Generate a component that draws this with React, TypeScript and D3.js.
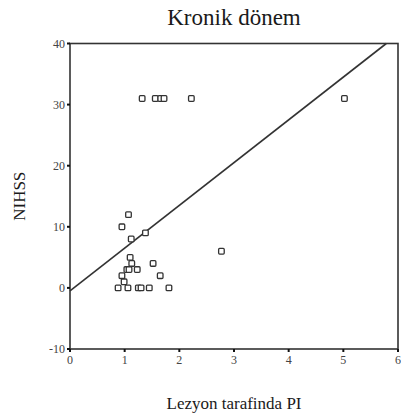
import * as d3 from 'd3';

const xValues = [1.32, 1.56, 1.66, 1.72, 2.22, 5.02, 1.07, 0.95, 1.12, 1.38, 1.10, 1.13, 1.04, 1.08, 1.23, 1.52, 1.65, 0.95, 0.99, 0.88, 1.06, 1.25, 1.30, 1.45, 1.81, 2.77];
const yValues = [31, 31, 31, 31, 31, 31, 12, 10, 8, 9, 5, 4, 3, 3, 3, 4, 2, 2, 1, 0, 0, 0, 0, 0, 0, 6];
const xTicks = [0, 1, 2, 3, 4, 5, 6];
const yTicks = [-10, 0, 10, 20, 30, 40];
const fitIntercept = -0.5;
const fitSlope = 7.0;

export default function App() {
  const width = 401;
  const height = 416;
  const left = 70, right = 398, top = 43.5, bottom = 349;

  const x = d3.scaleLinear().domain([0, 6]).range([left, right]);
  const y = d3.scaleLinear().domain([-10, 40]).range([bottom, top]);

  // fit line from x=0 until it reaches the top of the frame
  const xEnd = Math.min(6, (40 - fitIntercept) / fitSlope);
  const fit = d3.line<number>()
    .x(d => x(d))
    .y(d => y(fitIntercept + fitSlope * d));

  const stroke = '#333';

  return (
    <svg width={width} height={height} style={{ position: 'absolute', left: 0, top: 0 }}
      fontFamily="'Liberation Serif', 'DejaVu Serif', serif">
      <rect width={width} height={height} fill="#fff" />
      <text x={(left + right) / 2} y={25} textAnchor="middle" fontSize={23} fill="#1a1a1a">Kronik dönem</text>

      <rect x={left} y={top} width={right - left} height={bottom - top} fill="none" stroke={stroke} strokeWidth={1.6} />

      {yTicks.map(t => (
        <g key={'y' + t}>
          <line x1={left - 3} x2={left} y1={y(t)} y2={y(t)} stroke="#111" strokeWidth={2} />
          <text x={left - 5} y={y(t)} dy="0.35em" textAnchor="end" fontSize={12} fill="#444">{t}</text>
        </g>
      ))}
      {xTicks.map(t => (
        <g key={'x' + t}>
          <line x1={x(t)} x2={x(t)} y1={bottom} y2={bottom + 3} stroke="#111" strokeWidth={2} />
          <text x={x(t)} y={bottom + 15} textAnchor="middle" fontSize={12} fill="#444">{t}</text>
        </g>
      ))}

      <path d={fit([0, xEnd]) || ''} fill="none" stroke={stroke} strokeWidth={1.6} />

      {xValues.map((v, i) => (
        <rect key={i} x={x(v) - 2.8} y={y(yValues[i]) - 2.8} width={5.6} height={5.6} rx={1}
          fill="#fff" stroke="#333" strokeWidth={1.3} />
      ))}

      <text x={(left + right) / 2} y={409} textAnchor="middle" fontSize={17} fill="#1a1a1a">Lezyon tarafinda PI</text>
      <text transform={`translate(25,${(top + bottom) / 2}) rotate(-90)`} textAnchor="middle" fontSize={17} fill="#1a1a1a">NIHSS</text>
    </svg>
  );
}
